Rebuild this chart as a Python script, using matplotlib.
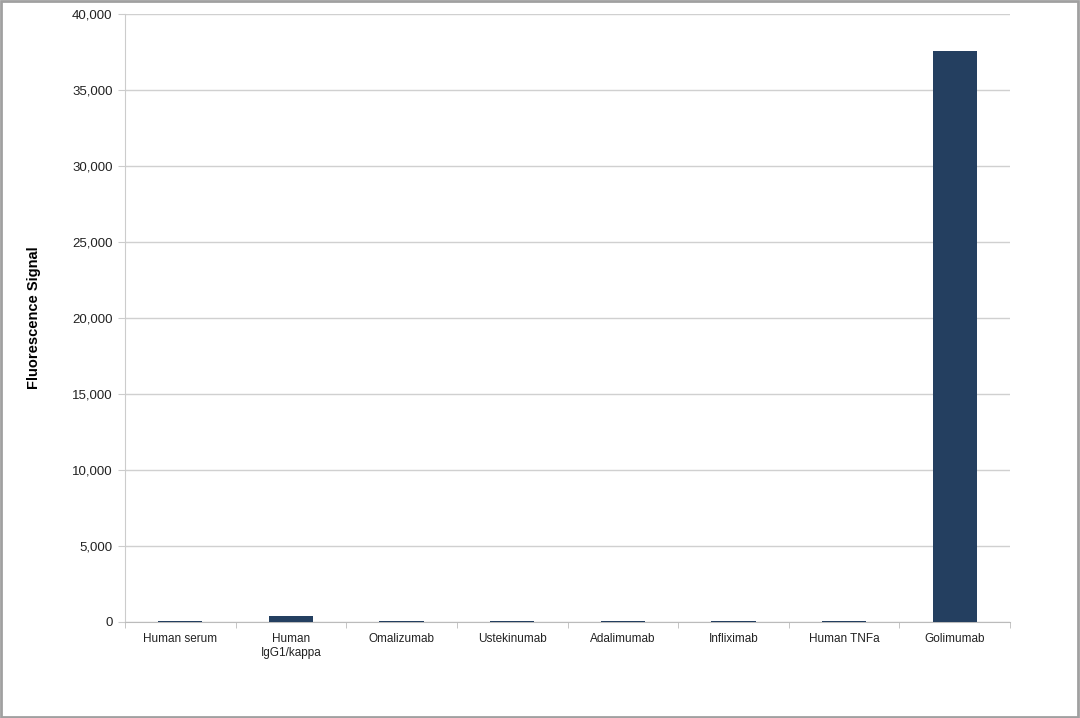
import matplotlib
matplotlib.use("Agg")
import matplotlib.pyplot as plt
from matplotlib.ticker import FuncFormatter, FixedLocator
from matplotlib.patches import Rectangle

categories = ["Human serum", "Human\nIgG1/kappa", "Omalizumab", "Ustekinumab",
              "Adalimumab", "Infliximab", "Human TNFa", "Golimumab"]
values = [50, 380, 50, 50, 50, 50, 50, 37550]
yticks = [0, 5000, 10000, 15000, 20000, 25000, 30000, 35000, 40000]

plt.rcParams['font.family'] = ['Liberation Sans', 'DejaVu Sans']

fig = plt.figure(figsize=(10.8, 7.18), dpi=100)
ax = fig.add_axes([125/1080, 1-622/718, 885/1080, 608/718])

x = list(range(len(categories)))
ax.bar(x, values, width=0.4, color="#243F60", zorder=3)
ax.set_xlim(-0.5, len(categories) - 0.5)
ax.set_ylim(0, 40000)
ax.set_yticks(yticks)
ax.yaxis.set_major_formatter(FuncFormatter(lambda v, p: f"{int(v):,}"))
ax.grid(axis="y", color="#d0d0d0", linewidth=1, zorder=0)
ax.set_xticks(x)
ax.set_xticklabels(categories, fontsize=8.5, color="#222222")
ax.tick_params(axis="x", length=0, pad=8)
ax.xaxis.set_minor_locator(FixedLocator([i + 0.5 for i in range(-1, len(categories))]))
ax.tick_params(axis="x", which="minor", length=4, color="#bbbbbb")
ax.tick_params(axis="y", length=5, color="#cccccc", labelsize=9.5, labelcolor="#222222", pad=4)
for s in ["top", "right"]:
    ax.spines[s].set_visible(False)
ax.spines["left"].set_color("#cccccc")
ax.spines["bottom"].set_color("#bbbbbb")
ax.set_ylabel("Fluorescence Signal", fontsize=10.5, fontweight="bold", labelpad=22)

fig.patches.append(Rectangle((0.001, 0.002), 0.997, 0.996, transform=fig.transFigure,
                             fill=False, edgecolor="#a0a0a0", linewidth=2))
fig.savefig("out.png", dpi=100)
